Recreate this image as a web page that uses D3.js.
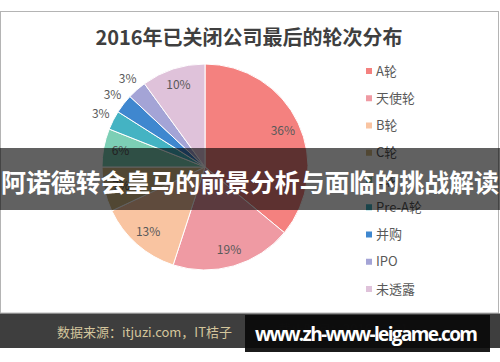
<!DOCTYPE html>
<html>
<head>
<meta charset="utf-8">
<script src="https://cdn.jsdelivr.net/npm/d3@7"></script>
<style>
  body { margin: 0; background: #fff; }
  svg { display: block; font-family: "Noto Sans CJK SC", "Noto Sans", sans-serif; }
</style>
</head>
<body>
<div id="chart"></div>
<script>
const titleText = "2016年已关闭公司最后的轮次分布"
const categories = ["A轮", "天使轮", "B轮", "C轮", "D轮", "Pre-A轮", "并购", "IPO", "未透露"]
const shares = [36, 19, 13, 7, 6, 3, 3, 3, 10]
const sliceColors = ["#f4817f", "#ef9aa3", "#f9c4a1", "#d4bc86", "#7ccfb5", "#44b3c3", "#3f87cf", "#a4a4d6", "#dfc2da"]
const sourceText = "数据来源：itjuzi.com，IT桔子"
const dateText = "截止时间：2016.12.31"
const bannerText = "阿诺德转会皇马的前景分析与面临的挑战解读"
const watermarkText = "www.zh-www-leigame.com"

const width = 500, height = 362
const cx = 205, cy = 167, radius = 103

const svg = d3.select("#chart")
    .append("svg")
        .attr("width", width)
        .attr("height", height)

// frame
svg.append("rect")
    .attr("x", 0.5).attr("y", 11.5)
    .attr("width", 498).attr("height", 301.5)
    .attr("fill", "#fff")
    .attr("stroke", "#b4b4b4")

svg.append("text")
    .attr("x", 249).attr("y", 45)
    .attr("text-anchor", "middle")
    .attr("font-size", 20).attr("font-weight", "bold")
    .attr("fill", "#3f3f3f")
    .text(titleText)

// pie
const pie = d3.pie().sort(null).value(d => d.value)
const arcs = pie(categories.map((c, i) => ({name: c, value: shares[i], color: sliceColors[i]})))
const arc = d3.arc().innerRadius(0).outerRadius(radius)
const innerLabel = d3.arc().innerRadius(86).outerRadius(86)
const outerLabel = d3.arc().innerRadius(117).outerRadius(117)

const g = svg.append("g").attr("transform", `translate(${cx},${cy})`)

g.selectAll("path")
    .data(arcs)
    .enter()
    .append("path")
        .attr("d", arc)
        .attr("fill", d => d.data.color)
        .attr("stroke", "#fff")
        .attr("stroke-width", 1)

g.selectAll("text")
    .data(arcs)
    .enter()
    .append("text")
        .attr("transform", d => `translate(${(d.data.value < 6 ? outerLabel : innerLabel).centroid(d)})`)
        .attr("text-anchor", "middle")
        .attr("dy", "0.35em")
        .attr("font-size", 12)
        .attr("fill", "#595959")
        .text(d => d.data.value + "%")

// legend
const ly = d3.scalePoint().domain(categories).range([71, 289])
const legend = svg.append("g")
    .selectAll("g")
    .data(categories)
    .enter()
    .append("g")
        .attr("transform", d => `translate(366,${ly(d)})`)

legend.append("rect")
    .attr("x", 0).attr("y", -3)
    .attr("width", 6).attr("height", 6)
    .attr("fill", (d, i) => sliceColors[i])

legend.append("text")
    .attr("x", 10).attr("dy", "0.36em")
    .attr("font-size", 13)
    .attr("fill", "#595959")
    .text(d => d)

// footer band
svg.append("rect")
    .attr("x", 0).attr("y", 313.5)
    .attr("width", width).attr("height", 34.5)
    .attr("fill", "#3e3e3e")

svg.append("text")
    .attr("x", 57).attr("y", 337)
    .attr("font-size", 13)
    .attr("fill", "#d3c59c")
    .text(sourceText)

svg.append("text")
    .attr("x", 278).attr("y", 334)
    .attr("font-size", 13)
    .attr("fill", "#4c4c4c")
    .text(dateText)

// overlay banner
svg.append("rect")
    .attr("x", 0).attr("y", 148)
    .attr("width", width).attr("height", 62)
    .attr("fill", "rgba(0,0,0,0.62)")

svg.append("text")
    .attr("x", 250).attr("y", 192)
    .attr("text-anchor", "middle")
    .attr("font-size", 25).attr("font-weight", "bold")
    .attr("fill", "#fff")
    .attr("textLength", 498)
    .text(bannerText)

// watermark box
svg.append("rect")
    .attr("x", 245).attr("y", 315)
    .attr("width", 245).attr("height", 37)
    .attr("fill", "rgba(10,10,10,0.93)")

svg.append("text")
    .attr("x", 255).attr("y", 341)
    .attr("font-family", "'Open Sans', sans-serif")
    .attr("font-size", 19).attr("font-weight", "bold")
    .attr("fill", "#fff")
    .attr("textLength", 223)
    .text(watermarkText)
</script>
</body>
</html>
